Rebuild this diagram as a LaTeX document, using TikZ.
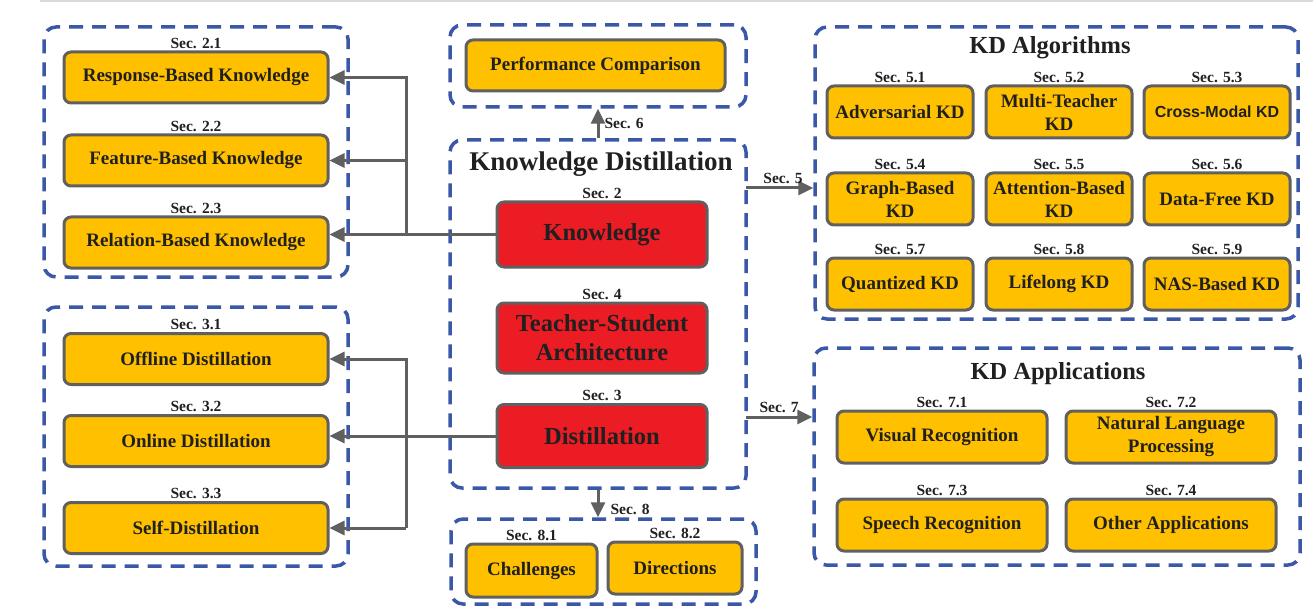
\documentclass[tikz,border=0pt]{standalone}
\usepackage{fontspec}
\setmainfont{Liberation Serif}
\newfontfamily\arialfont{Liberation Sans}
\usepackage{xcolor}
\usepackage{tikz}
\usetikzlibrary{positioning,arrows.meta}
\definecolor{kdblue}{HTML}{3B57A8}
\definecolor{kdgrey}{HTML}{606060}
\definecolor{kdamber}{HTML}{FFC000}
\definecolor{kdred}{HTML}{EC1C24}
\definecolor{kdink}{HTML}{202020}
\newcommand{\itemfont}{\fontsize{19}{23}\selectfont\bfseries}
\newcommand{\corefont}{\fontsize{24.5}{29}\selectfont\bfseries}
\newcommand{\secfont}{\fontsize{15.5}{18}\selectfont\bfseries}
\newcommand{\titlefont}{\fontsize{24.5}{28}\selectfont\bfseries}

\begin{document}
\begin{tikzpicture}[x=1pt,y=-1pt,
    frame/.style={draw=kdblue,line width=3.5pt,dash pattern=on 14pt off 9pt,
                  rounded corners=12pt,inner sep=0pt},
    item/.style={draw=kdgrey,fill=kdamber,line width=3pt,rounded corners=7pt,
                 inner sep=0pt,align=center,text=kdink,font=\itemfont},
    wide/.style={item,minimum width=264pt,minimum height=51pt},
    algo/.style={item,minimum width=146pt,minimum height=52pt},
    appl/.style={item,minimum width=210pt,minimum height=52pt},
    core/.style={item,fill=kdred,minimum width=210pt,font=\corefont},
    sec/.style={font=\secfont,text=kdink,inner sep=1pt},
    title/.style={font=\titlefont,text=kdink,inner sep=0pt},
    arrow/.style={-{Triangle[length=15pt,width=14pt]},line width=3pt,kdgrey}]
  \useasboundingbox (0,0) rectangle (1313,612);
  \draw[gray!30,line width=1.5pt] (40,1) -- (1313,1);

  % knowledge
  \node[frame,minimum width=304pt,minimum height=250pt] (kframe) at (196,152) {};
  \node[wide] (resp) at (196,77.5) {Response-Based Knowledge};
  \node[wide,below=29pt of resp] (feat) {Feature-Based Knowledge};
  \node[wide,below=28pt of feat] (rel) {Relation-Based Knowledge};
  \node[sec,above=1pt of resp] {Sec. 2.1};
  \node[sec,above=1pt of feat] {Sec. 2.2};
  \node[sec,above=1pt of rel] {Sec. 2.3};

  % distillation schemes
  \node[frame,minimum width=304pt,minimum height=259pt] (dframe) at (196,436.5) {};
  \node[wide] (off) at (196,359) {Offline Distillation};
  \node[wide,below=28pt of off] (onl) {Online Distillation};
  \node[wide,below=33pt of onl] (self) {Self-Distillation};
  \node[sec,above=1pt of off] {Sec. 3.1};
  \node[sec,above=1pt of onl] {Sec. 3.2};
  \node[sec,above=1pt of self] {Sec. 3.3};

  % centre
  \node[frame,minimum width=296pt,minimum height=82pt] (perfbox) at (598,66) {};
  \node[item,minimum width=259pt,minimum height=51pt] (perf) at (595.5,65.5) {Performance Comparison};
  \node[frame,minimum width=296pt,minimum height=348pt] (kd) at (598,314) {};
  \node[title,font=\fontsize{27}{30}\selectfont\bfseries] (kdtitle) at (601,164) {Knowledge Distillation};
  \node[core,minimum height=65pt] (know) at (602,234.5) {Knowledge};
  \node[core,minimum height=70pt,below=33pt of know] (ts) {Teacher-Student\\Architecture};
  \node[core,minimum height=63pt] (dist) at (602,436) {Distillation};
  \node[sec,above=1pt of know] {Sec. 2};
  \node[sec,above=1pt of ts] {Sec. 4};
  \node[sec,above=1pt of dist] {Sec. 3};

  \node[frame,minimum width=305pt,minimum height=85pt] (fut) at (603.5,561.5) {};
  \node[item,minimum width=131pt,minimum height=53pt] (chal) at (531.5,570.5) {Challenges};
  \node[item,minimum width=134pt,minimum height=52pt] (dir) at (675,568) {Directions};
  \node[sec,above=1pt of chal] {Sec. 8.1};
  \node[sec,above=1pt of dir] {Sec. 8.2};

  % algorithms
  \node[frame,minimum width=483pt,minimum height=292pt] (alg) at (1056.5,173) {};
  \node[title] at (1050,48) {KD Algorithms};
  \node[algo] (adv) at (900,112) {Adversarial KD};
  \node[algo,right=10pt of adv] (multi) {Multi-Teacher\\KD};
  \node[algo,right=9pt of multi] (cross) {\arialfont\fontsize{16}{19}\selectfont\bfseries Cross-Modal KD};
  \node[algo,below=32pt of adv] (graph) {Graph-Based\\KD};
  \node[algo,below=32pt of multi] (att) {Attention-Based\\KD};
  \node[algo,below=32pt of cross] (free) {Data-Free KD};
  \node[algo,below=30pt of graph] (quant) {Quantized KD};
  \node[algo,below=30pt of att] (life) {Lifelong KD};
  \node[algo,below=30pt of free] (nas) {NAS-Based KD};
  \node[sec,above=1pt of adv] {Sec. 5.1};
  \node[sec,above=1pt of multi] {Sec. 5.2};
  \node[sec,above=1pt of cross] {Sec. 5.3};
  \node[sec,above=1pt of graph] {Sec. 5.4};
  \node[sec,above=1pt of att] {Sec. 5.5};
  \node[sec,above=1pt of free] {Sec. 5.6};
  \node[sec,above=1pt of quant] {Sec. 5.7};
  \node[sec,above=1pt of life] {Sec. 5.8};
  \node[sec,above=1pt of nas] {Sec. 5.9};

  % applications
  \node[frame,minimum width=486pt,minimum height=217pt] (app) at (1057,456.5) {};
  \node[title] at (1058,374) {KD Applications};
  \node[appl] (vis) at (942,437) {Visual Recognition};
  \node[appl,right=16pt of vis] (nlp) {Natural Language\\Processing};
  \node[appl,below=33pt of vis] (speech) {Speech Recognition};
  \node[appl,below=33pt of nlp] (other) {Other Applications};
  \node[sec,above=1pt of vis] {Sec. 7.1};
  \node[sec,above=1pt of nlp] {Sec. 7.2};
  \node[sec,above=1pt of speech] {Sec. 7.3};
  \node[sec,above=1pt of other] {Sec. 7.4};

  % connectors
  \coordinate (kbus) at (406,0);
  \draw[arrow] (know.west) -- (know.west -| rel.east);
  \draw[arrow] (kbus |- know.west) |- (resp.east);
  \draw[arrow] (kbus |- feat.east) -- (feat.east);
  \draw[arrow] (dist.west) -- (dist.west -| onl.east);
  \draw[arrow] (kbus |- self.east) |- (off.east);
  \draw[arrow] (kbus |- self.east) -- (self.east);
  \draw[arrow] (kd.north) -- node[sec,right=4pt] {Sec. 6} (perfbox.south);
  \draw[arrow] (kd.south) -- node[sec,right=10pt,pos=0.7] {Sec. 8} (kd.south |- fut.north);
  \coordinate (s5) at (746,188);
  \coordinate (s7) at (746,417);
  \draw[arrow] (s5) -- node[sec,above=2pt,pos=0.55] {Sec. 5} (s5 -| alg.west);
  \draw[arrow] (s7) -- node[sec,above=2pt] {Sec. 7} (s7 -| app.west);
\end{tikzpicture}
\end{document}
